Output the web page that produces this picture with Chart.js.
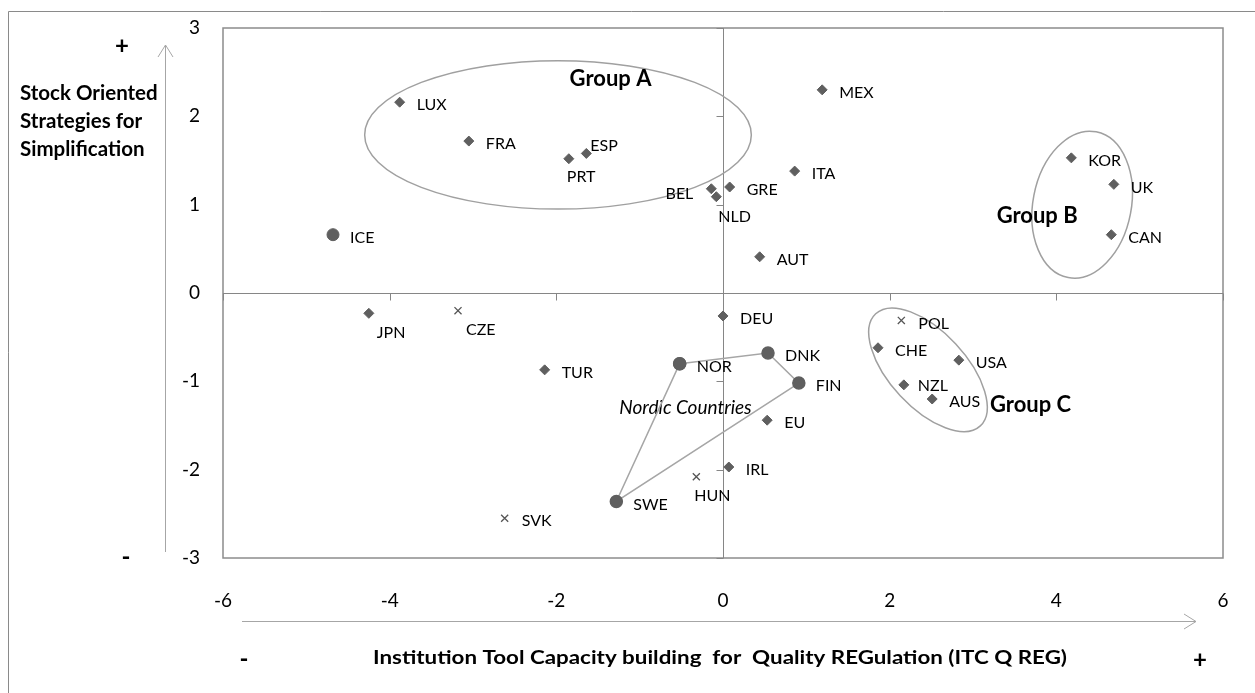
<!DOCTYPE html>
<html>
<head>
<meta charset="utf-8">
<script src="https://cdn.jsdelivr.net/npm/chart.js@4"></script>
<style>
  html, body { margin: 0; padding: 0; background: #fff; }
  canvas { display: block; }
</style>
</head>
<body>
<canvas id="chart" width="1255" height="693"></canvas>
<script>
// axis ticks
const xTicks = [-6, -4, -2, 0, 2, 4, 6];
const yTicks = [-3, -2, -1, 0, 1, 2, 3];

// diamond markers
const diamondCountries = ['LUX', 'FRA', 'ESP', 'PRT', 'BEL', 'NLD', 'GRE', 'ITA', 'MEX', 'AUT', 'KOR', 'UK', 'CAN',
    'JPN', 'TUR', 'DEU', 'EU', 'IRL', 'CHE', 'USA', 'NZL', 'AUS'];
const diamondX = [-3.88, -3.05, -1.64, -1.85, -0.14, -0.08, 0.08, 0.86, 1.19, 0.44, 4.18, 4.69, 4.66,
    -4.25, -2.14, 0.0, 0.53, 0.07, 1.86, 2.83, 2.17, 2.51];
const diamondY = [2.16, 1.72, 1.58, 1.52, 1.18, 1.09, 1.2, 1.38, 2.3, 0.41, 1.53, 1.23, 0.66,
    -0.23, -0.87, -0.26, -1.44, -1.97, -0.62, -0.76, -1.04, -1.2];

// cross markers
const crossCountries = ['CZE', 'HUN', 'SVK', 'POL'];
const crossX = [-3.18, -0.32, -2.62, 2.14];
const crossY = [-0.2, -2.08, -2.55, -0.31];

// round markers: nordic polygon + iceland
const nordicCountries = ['NOR', 'DNK', 'FIN', 'SWE'];
const nordicX = [-0.52, 0.54, 0.91, -1.28];
const nordicY = [-0.8, -0.68, -1.02, -2.36];
const iceCountries = ['ICE'];
const iceX = [-4.68];
const iceY = [0.66];

// label placement (offsets in px from the marker)
const labelOffsets = {
    ESP: [4, -8], PRT: [-2, 18], BEL: [-18, 5, 'right'], NLD: [2, 20],
    JPN: [8, 20], CZE: [8, 19], HUN: [-2, 19], NZL: [14, 1]
};

// group outlines (centre in data units, radii in data units, rotation in rad)
const groupEllipses = [
    { cx: -1.98, cy: 1.79, rx: 2.32, ry: 0.84, rot: 0 },
    { cx: 4.31, cy: 1.0, rx: 0.59, ry: 0.84, rot: 0.19 },
    { cx: 2.46, cy: -0.87, rx: 0.92, ry: 0.43, rot: 0.82 }
];
const groupTexts = [
    { text: 'Group A', x: -1.35, y: 2.42, font: 'bold 22px Lato' },
    { text: 'Group B', x: 3.77, y: 0.87, font: 'bold 22px Lato' },
    { text: 'Group C', x: 3.69, y: -1.27, font: 'bold 22px Lato' },
    { text: 'Nordic Countries', x: -0.45, y: -1.3, font: 'italic 19px Lato' }
];

const points = (xs, ys) => xs.map((x, i) => ({ x: x, y: ys[i] }));

const markerColor = '#5f5f5f';
const lineGray = '#a6a6a6';

const decorPlugin = {
    id: 'decor',
    beforeDatasetsDraw(chart) {
        const { ctx, chartArea: a, scales: { x, y } } = chart;
        ctx.save();
        // outer frame (only left and top visible)
        ctx.strokeStyle = '#8a8a8a';
        ctx.lineWidth = 1;
        ctx.beginPath();
        ctx.moveTo(8.5, 693); ctx.lineTo(8.5, 11.5); ctx.lineTo(1255, 11.5);
        ctx.stroke();
        // plot frame
        ctx.strokeStyle = '#8c8c8c';
        ctx.lineWidth = 1.5;
        ctx.strokeRect(a.left, a.top, a.right - a.left, a.bottom - a.top);
        // zero axes with tick marks
        const x0 = Math.round(x.getPixelForValue(0)) + 0.5;
        const y0 = Math.round(y.getPixelForValue(0)) + 0.5;
        ctx.lineWidth = 1;
        ctx.strokeStyle = '#868686';
        ctx.beginPath();
        ctx.moveTo(a.left, y0); ctx.lineTo(a.right, y0);
        ctx.moveTo(x0, a.top); ctx.lineTo(x0, a.bottom);
        xTicks.forEach(v => {
            const px = Math.round(x.getPixelForValue(v)) + 0.5;
            ctx.moveTo(px, y0); ctx.lineTo(px, y0 + 7);
        });
        yTicks.forEach(v => {
            const py = Math.round(y.getPixelForValue(v)) + 0.5;
            ctx.moveTo(x0 - 7, py); ctx.lineTo(x0, py);
        });
        ctx.stroke();

        // group ellipses
        ctx.strokeStyle = '#a0a0a0';
        ctx.lineWidth = 1.5;
        const sx = Math.abs(x.getPixelForValue(1) - x.getPixelForValue(0));
        const sy = Math.abs(y.getPixelForValue(1) - y.getPixelForValue(0));
        groupEllipses.forEach(e => {
            ctx.beginPath();
            ctx.ellipse(x.getPixelForValue(e.cx), y.getPixelForValue(e.cy), e.rx * sx, e.ry * sy, e.rot, 0, Math.PI * 2);
            ctx.stroke();
        });

        // arrows
        ctx.strokeStyle = lineGray;
        ctx.lineWidth = 1;
        ctx.beginPath();
        ctx.moveTo(165.5, 552); ctx.lineTo(165.5, 45);
        ctx.moveTo(158, 57); ctx.lineTo(165.5, 45); ctx.lineTo(173, 57);
        ctx.moveTo(242, 621.5); ctx.lineTo(1196, 621.5);
        ctx.moveTo(1184, 614); ctx.lineTo(1196, 621.5); ctx.lineTo(1184, 629);
        ctx.stroke();

        // axis titles
        ctx.fillStyle = '#000';
        ctx.textBaseline = 'middle';
        ctx.textAlign = 'left';
        ctx.font = 'bold 20.5px Lato';
        ['Stock Oriented', 'Strategies for', 'Simplification'].forEach((t, i) => {
            ctx.fillText(t, 20, 93 + i * 28);
        });
        const title = 'Institution Tool Capacity building  for  Quality REGulation (ITC Q REG)';
        ctx.font = 'bold 18px Lato';
        const w = ctx.measureText(title).width;
        ctx.save();
        ctx.translate(373, 658);
        ctx.scale(694 / w, 1);
        ctx.fillText(title, 0, 0);
        ctx.restore();
        ctx.textAlign = 'center';
        ctx.font = 'bold 24px Lato';
        ctx.fillText('+', 122, 46);
        ctx.fillText('-', 126, 557);
        ctx.fillText('-', 244, 659);
        ctx.fillText('+', 1200, 660);

        // group names
        groupTexts.forEach(g => {
            ctx.font = g.font;
            ctx.fillText(g.text, x.getPixelForValue(g.x), y.getPixelForValue(g.y));
        });
        ctx.restore();
    },
    afterDatasetsDraw(chart) {
        const { ctx } = chart;
        ctx.save();
        ctx.fillStyle = '#000';
        ctx.font = '16px Lato';
        ctx.textBaseline = 'middle';
        chart.data.datasets.forEach((ds, di) => {
            const meta = chart.getDatasetMeta(di);
            ds.names.forEach((name, i) => {
                const el = meta.data[i];
                const off = labelOffsets[name] || [17, 3];
                ctx.textAlign = off[2] || 'left';
                ctx.fillText(name, el.x + off[0], el.y + off[1]);
            });
        });
        ctx.restore();
    }
};

new Chart(document.getElementById('chart'), {
    type: 'scatter',
    data: {
        datasets: [
            {
                names: nordicCountries,
                data: points(nordicX.concat(nordicX[0]), nordicY.concat(nordicY[0])),
                showLine: true,
                borderColor: lineGray,
                borderWidth: 1.5,
                pointStyle: 'circle',
                pointRadius: 6,
                pointBackgroundColor: markerColor,
                pointBorderColor: markerColor
            },
            {
                names: iceCountries,
                data: points(iceX, iceY),
                pointStyle: 'circle',
                pointRadius: 6,
                pointBackgroundColor: markerColor,
                pointBorderColor: markerColor
            },
            {
                names: diamondCountries,
                data: points(diamondX, diamondY),
                pointStyle: 'rectRot',
                pointRadius: 5,
                pointBackgroundColor: markerColor,
                pointBorderColor: markerColor
            },
            {
                names: crossCountries,
                data: points(crossX, crossY),
                pointStyle: 'crossRot',
                pointRadius: 5,
                borderWidth: 1.3,
                pointBorderColor: '#555'
            }
        ]
    },
    options: {
        responsive: false,
        animation: false,
        devicePixelRatio: 1,
        layout: { padding: { left: 0, right: 32, top: 28, bottom: 0 } },
        plugins: { legend: { display: false }, tooltip: { enabled: false } },
        scales: {
            x: {
                type: 'linear', min: -6, max: 6,
                afterFit(scale) {
                    scale.height = 135;
                    scale.paddingLeft = 0;
                    scale.paddingRight = 0;
                },
                afterBuildTicks(scale) { scale.ticks = xTicks.map(v => ({ value: v })); },
                ticks: { color: '#000', font: { family: 'Lato', size: 19 }, padding: 31 },
                grid: { display: false, drawTicks: false },
                border: { display: false }
            },
            y: {
                type: 'linear', min: -3, max: 3,
                afterFit(scale) {
                    scale.width = 223;
                    scale.paddingTop = 0;
                    scale.paddingBottom = 0;
                },
                afterBuildTicks(scale) { scale.ticks = yTicks.map(v => ({ value: v })); },
                ticks: { color: '#000', font: { family: 'Lato', size: 19 }, padding: 23 },
                grid: { display: false, drawTicks: false },
                border: { display: false }
            }
        }
    },
    plugins: [decorPlugin]
});
</script>
</body>
</html>
